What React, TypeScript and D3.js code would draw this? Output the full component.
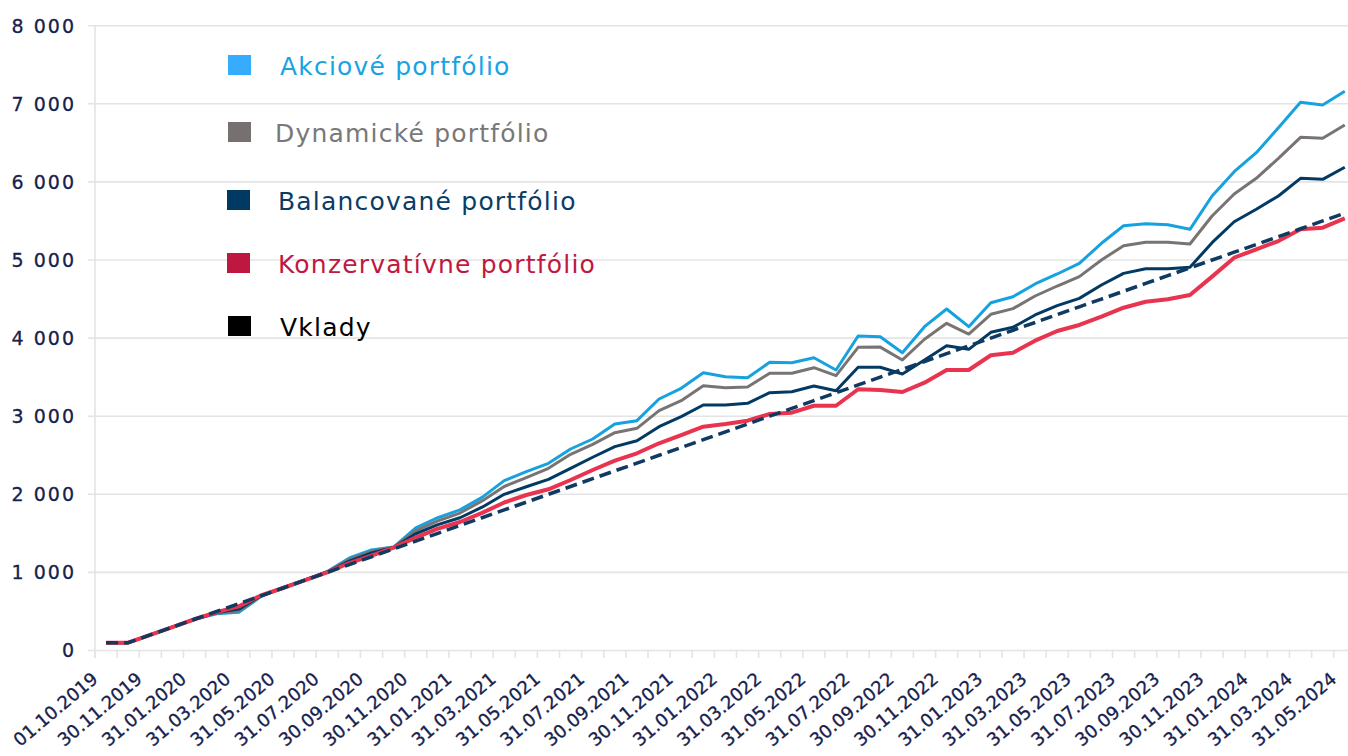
import React from "react";
import * as d3 from "d3";

const dates = [
  "01.10.2019", "31.10.2019", "30.11.2019", "31.12.2019", "31.01.2020", "29.02.2020", "31.03.2020", "30.04.2020",
  "31.05.2020", "30.06.2020", "31.07.2020", "31.08.2020", "30.09.2020", "31.10.2020", "30.11.2020", "31.12.2020",
  "31.01.2021", "28.02.2021", "31.03.2021", "30.04.2021", "31.05.2021", "30.06.2021", "31.07.2021", "31.08.2021",
  "30.09.2021", "31.10.2021", "30.11.2021", "31.12.2021", "31.01.2022", "28.02.2022", "31.03.2022", "30.04.2022",
  "31.05.2022", "30.06.2022", "31.07.2022", "31.08.2022", "30.09.2022", "31.10.2022", "30.11.2022", "31.12.2022",
  "31.01.2023", "28.02.2023", "31.03.2023", "30.04.2023", "31.05.2023", "30.06.2023", "31.07.2023", "31.08.2023",
  "30.09.2023", "31.10.2023", "30.11.2023", "31.12.2023", "31.01.2024", "29.02.2024", "31.03.2024", "30.04.2024",
  "31.05.2024",
];

const akciove = [
  100, 100, 200, 300, 400, 470, 490, 690, 805, 905, 1010, 1185, 1287, 1325, 1570, 1700, 1800, 1960, 2175, 2290,
  2397, 2580, 2708, 2900, 2943, 3220, 3357, 3557, 3506, 3493, 3690, 3685, 3749, 3592, 4027, 4018, 3813, 4146, 4373,
  4146, 4453, 4530, 4693, 4821, 4957, 5214, 5439, 5465, 5452, 5393, 5820, 6131, 6374, 6694, 7019, 6985, 7160,
];

const dynamicke = [
  100, 100, 200, 300, 400, 478, 510, 695, 805, 905, 1008, 1165, 1270, 1322, 1535, 1660, 1760, 1915, 2100, 2213,
  2333, 2512, 2640, 2789, 2845, 3071, 3199, 3391, 3365, 3374, 3549, 3549, 3621, 3519, 3882, 3885, 3720, 3985, 4189,
  4052, 4305, 4377, 4539, 4667, 4787, 5000, 5183, 5226, 5226, 5205, 5563, 5845, 6046, 6302, 6571, 6558, 6729,
];

const balancovane = [
  100, 100, 200, 300, 400, 485, 530, 700, 800, 903, 1005, 1145, 1250, 1320, 1495, 1612, 1700, 1835, 2000, 2097,
  2192, 2333, 2474, 2610, 2686, 2866, 2994, 3143, 3143, 3165, 3301, 3314, 3387, 3327, 3626, 3626, 3540, 3720, 3903,
  3856, 4074, 4138, 4296, 4415, 4509, 4680, 4829, 4889, 4889, 4906, 5222, 5490, 5649, 5820, 6046, 6033, 6187,
];

const konzervativne = [
  100, 100, 200, 300, 400, 492, 565, 705, 800, 900, 1000, 1120, 1215, 1318, 1445, 1560, 1645, 1762, 1895, 1991,
  2064, 2183, 2311, 2430, 2525, 2653, 2759, 2866, 2900, 2943, 3028, 3045, 3134, 3134, 3345, 3335, 3310, 3429, 3592,
  3592, 3780, 3813, 3967, 4091, 4168, 4274, 4389, 4466, 4497, 4552, 4787, 5029, 5137, 5243, 5393, 5414, 5534,
];

const vklady = [
  100, 100, 200, 300, 400, 500, 600, 700, 800, 900, 1000, 1100, 1200, 1300, 1400, 1500, 1600, 1700, 1800, 1900,
  2000, 2100, 2200, 2300, 2400, 2500, 2600, 2700, 2800, 2900, 3000, 3100, 3200, 3300, 3400, 3500, 3600, 3700, 3800,
  3900, 4000, 4100, 4200, 4300, 4400, 4500, 4600, 4700, 4800, 4900, 5000, 5100, 5200, 5300, 5400, 5500, 5600,
];

const yTicks = [0, 1000, 2000, 3000, 4000, 5000, 6000, 7000, 8000];

const seriesNames = ["Akciové portfólio", "Dynamické portfólio", "Balancované portfólio", "Konzervatívne portfólio", "Vklady"];

export default function App() {
  const W = 1348;
  const H = 756;
  const left = 95;
  const bandW = 22.12;
  const x = d3
    .scaleBand<string>()
    .domain(dates)
    .range([left, left + dates.length * bandW])
    .paddingInner(0)
    .paddingOuter(0);
  const cx = (i: number) => (x(dates[i]) as number) + x.bandwidth() / 2;
  const y = d3.scaleLinear().domain([0, 8000]).range([650.5, 25.7]);
  const line = d3
    .line<number>()
    .x((_, i) => cx(i))
    .y((d) => y(d));
  const fmt = (v: number) => d3.format(",")(v).replace(/,/g, " ");

  const series = [
    { name: seriesNames[0], data: akciove, stroke: "#16a1df", width: 3, dash: undefined as string | undefined },
    { name: seriesNames[1], data: dynamicke, stroke: "#787473", width: 3, dash: undefined },
    { name: seriesNames[2], data: balancovane, stroke: "#033a63", width: 3, dash: undefined },
    { name: seriesNames[3], data: konzervativne, stroke: "#e8344f", width: 4, dash: undefined },
    { name: seriesNames[4], data: vklady, stroke: "#0f3a62", width: 3.5, dash: "12 6" },
  ];

  const legend = [
    { name: seriesNames[0], sq: "#37abfd", text: "#19a3e2", sqY: 55, sqX: 228, base: 75, tx: 280 },
    { name: seriesNames[1], sq: "#767170", text: "#787878", sqY: 122, sqX: 228, base: 142, tx: 275 },
    { name: seriesNames[2], sq: "#003a63", text: "#0a3d66", sqY: 190, sqX: 227, base: 210, tx: 278 },
    { name: seriesNames[3], sq: "#bf1840", text: "#c0183f", sqY: 253, sqX: 227, base: 272.5, tx: 278 },
    { name: seriesNames[4], sq: "#000000", text: "#000000", sqY: 316, sqX: 228, base: 336, tx: 280 },
  ];

  const labelColor = "#17214d";
  const gridColor = "#e4e4e4";
  const boundaries = d3.range(dates.length + 1).map((i) => left + i * x.bandwidth());

  return (
    <svg
      width={W}
      height={H}
      style={{ position: "absolute", left: 0, top: 0, background: "#fff" }}
      fontFamily="'DejaVu Sans', sans-serif"
    >
      {yTicks.map((t) => (
        <line key={"g" + t} x1={88} x2={W} y1={y(t)} y2={y(t)} stroke={gridColor} strokeWidth={1.6} />
      ))}
      <line x1={left} x2={left} y1={y(8000)} y2={658} stroke={gridColor} strokeWidth={1.6} />
      {boundaries.map((bx, i) => (
        <line key={"t" + i} x1={bx} x2={bx} y1={y(0)} y2={658} stroke={gridColor} strokeWidth={1.6} />
      ))}
      {yTicks.map((t) => (
        <text
          key={"yl" + t}
          x={76}
          y={y(t)}
          dy="0.36em"
          textAnchor="end"
          fontSize={19}
          letterSpacing={2}
          fill={labelColor}
          stroke={labelColor}
          strokeWidth={0.3}
        >
          {fmt(t)}
        </text>
      ))}
      {dates.map((d, i) =>
        i % 2 === 0 ? (
          <text
            key={"xl" + i}
            transform={`translate(${cx(i) - 7},${681}) rotate(-40)`}
            textAnchor="end"
            fontSize={18}
            fill={labelColor}
            stroke={labelColor}
            strokeWidth={0.3}
          >
            {d}
          </text>
        ) : null
      )}
      {series.map((s) => (
        <path
          key={s.name}
          d={line(s.data) || ""}
          fill="none"
          stroke={s.stroke}
          strokeWidth={s.width}
          strokeLinejoin="round"
          strokeDasharray={s.dash}
        />
      ))}
      {legend.map((l) => (
        <g key={"lg" + l.name}>
          <rect x={l.sqX} y={l.sqY} width={23} height={20} fill={l.sq} />
          <text x={l.tx} y={l.base} fontSize={25} letterSpacing={1.2} fill={l.text}>
            {l.name}
          </text>
        </g>
      ))}
    </svg>
  );
}
